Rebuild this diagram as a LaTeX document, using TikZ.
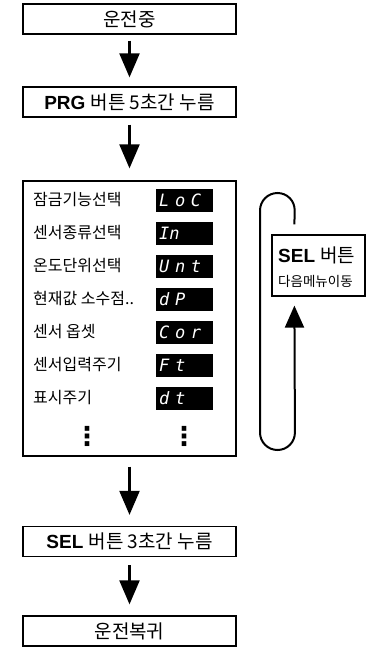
\documentclass[tikz,border=0pt]{standalone}
\usepackage{fontspec}
\setmainfont{Liberation Sans}
\newfontfamily\kr{Noto Sans CJK KR}
\newfontfamily\seg{DejaVu Sans Mono}
\newfontfamily\dv{DejaVu Sans}
\usetikzlibrary{arrows.meta}
\tikzset{
  flowbox/.style={draw, line width=1.3pt, minimum width=213pt, minimum height=30pt, inner sep=0pt, font=\fontsize{19}{21}\selectfont},
  flowarrow/.style={line width=2.2pt, -{Triangle[width=20pt,length=24pt]}},
  rowtext/.style={anchor=west, inner sep=0pt, font=\kr\fontsize{16}{18}\selectfont},
  segbox/.style={anchor=west, fill=black, text=white, minimum width=57pt, minimum height=23pt, text width=51pt, inner sep=3pt, align=left, font=\seg\itshape\fontsize{17}{18}\selectfont},
  dotsnode/.style={inner sep=0pt, font=\dv\bfseries\fontsize{26}{28}\selectfont},
  seltext/.style={anchor=west, inner sep=0pt},
}
\begin{document}
\begin{tikzpicture}[x=1pt,y=-1pt]
\useasboundingbox (0,0) rectangle (374,648);
\node[flowbox] (n1) at (129.5,19) {{\kr 운전중}};
\node[flowbox] (n2) at (129.5,102) {\textbf{PRG} {\kr 버튼 5초간 누름}};
\node[draw, line width=1.3pt, minimum width=213pt, minimum height=275pt, inner sep=0pt] (menu) at (129.5,318.5) {};
\node[flowbox] (n3) at (129.5,541.5) {\textbf{SEL} {\kr 버튼 3초간 누름}};
\node[flowbox] (n4) at (129.5,631) {{\kr 운전복귀}};

\node[rowtext] (r1) at (33,200) {잠금기능선택};
\node[rowtext] (r2) at (33,233) {센서종류선택};
\node[rowtext] (r3) at (33,266) {온도단위선택};
\node[rowtext] (r4) at (33,299) {현재값 소수점..};
\node[rowtext] (r5) at (33,332) {센서 옵셋};
\node[rowtext] (r6) at (33,365) {센서입력주기};
\node[rowtext] (r7) at (33,398) {표시주기};

\node[segbox] (d1) at (156,200) {L o C};
\node[segbox] (d2) at (156,233) {In};
\node[segbox] (d3) at (156,266) {U n t};
\node[segbox] (d4) at (156,299) {d P};
\node[segbox] (d5) at (156,332) {C o r};
\node[segbox] (d6) at (156,365) {F t};
\node[segbox] (d7) at (156,398) {d t};

\node[dotsnode] (v1) at (87,436) {⋮};
\node[dotsnode] (v2) at (184,436) {⋮};

\node[draw, line width=1.2pt, minimum width=93pt, minimum height=61pt, inner sep=0pt] (sel) at (318.5,265.5) {};
\node[seltext, font=\fontsize{19}{21}\selectfont] (selt1) at (278,255) {\textbf{SEL} {\kr 버튼}};
\node[seltext, font=\kr\fontsize{13.5}{15}\selectfont] (selt2) at (278,281) {다음메뉴이동};

\draw[flowarrow, shorten <=6pt, shorten >=9pt] (n1) -- (n2);
\draw[flowarrow, shorten <=7pt, shorten >=12pt] (n2) -- (menu);
\draw[flowarrow, shorten <=10pt, shorten >=11pt] (menu) -- (n3);
\draw[flowarrow, shorten <=8pt, shorten >=11pt] (n3) -- (n4);

\coordinate (ls) at ([xshift=23pt,yshift=10pt]sel.north west);
\coordinate (le) at ([xshift=23pt,yshift=-9pt]sel.south west);
\draw[line width=2pt, rounded corners=17.5pt, -{Triangle[width=19pt,length=22pt]}]
  (ls) -- (295,193) -- (260,193) -- (260,450) -- (295,450) -- (le);
\end{tikzpicture}
\end{document}
